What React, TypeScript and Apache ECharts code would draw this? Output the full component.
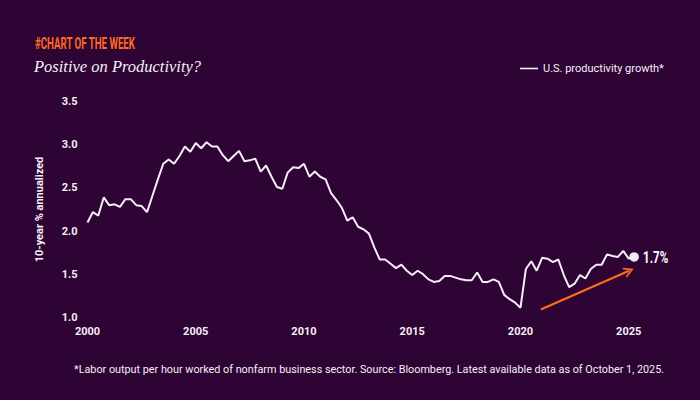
import React, { useEffect, useRef } from "react";
import * as echarts from "echarts";

const START_YEAR = 2000;
const yearTicks = [2000, 2005, 2010, 2015, 2020, 2025];
const yTicks = ["1.0", "1.5", "2.0", "2.5", "3.0", "3.5"];

// Quarterly 10-year annualized productivity growth (%), 2000Q1 ...
const values2000s = [
  2.10, 2.22, 2.18, 2.39,
  2.30, 2.31, 2.28, 2.37,
  2.37, 2.30, 2.29, 2.22,
  2.41, 2.60, 2.78, 2.83,
  2.78, 2.87, 2.98, 2.92,
  3.02, 2.96, 3.03, 2.98,
  2.98, 2.88, 2.81, 2.87,
  2.93, 2.81, 2.82, 2.84,
  2.69, 2.76, 2.63, 2.51,
  2.49, 2.68, 2.74, 2.73,
];
const values2010s = [
  2.78, 2.63, 2.69, 2.63,
  2.60, 2.44, 2.36, 2.27,
  2.12, 2.16, 2.05, 2.02,
  1.97, 1.81, 1.67, 1.67,
  1.62, 1.57, 1.61, 1.54,
  1.49, 1.54, 1.50, 1.44,
  1.41, 1.42, 1.48, 1.48,
  1.46, 1.44, 1.43, 1.43,
  1.52, 1.41, 1.41, 1.44,
  1.41, 1.26, 1.21, 1.17,
];
const values2020s = [
  1.11, 1.56, 1.65, 1.54,
  1.69, 1.68, 1.64, 1.67,
  1.49, 1.35, 1.39, 1.49,
  1.45, 1.56, 1.61, 1.61,
  1.73, 1.71, 1.70, 1.77,
  1.68, 1.70,
];
const latestLabel = "1.7%";
const arrowFrom = [2020.94, 1.09];
const arrowTo = [2025.02, 1.54];

const seriesName = "U.S. productivity growth*";
const titleText = "#CHART OF THE WEEK";
const subtitleText = "Positive on Productivity?";
const yAxisName = "10-year % annualized";
const footnote =
  "*Labor output per hour worked of nonfarm business sector. Source: Bloomberg. Latest available data as of October 1, 2025.";

const BG = "#2d0434";
const ORANGE = "#ff6a1f";
const WHITE = "#f6eff7";

export default function App() {
  const ref = useRef<HTMLDivElement>(null);
  useEffect(() => {
    if (!ref.current) return;
    const chart = echarts.init(ref.current, null, { renderer: "svg" });
    const all = [...values2000s, ...values2010s, ...values2020s];
    const data = all.map((v, i) => [START_YEAR + i / 4, v]);
    const last = data[data.length - 1];
    chart.setOption({
      animation: false,
      backgroundColor: BG,
      textStyle: { fontFamily: "Roboto" },
      grid: { left: 87.5, right: 28, top: 101.7, bottom: 82.7 },
      legend: {
        left: 515,
        top: 58,
        itemWidth: 18,
        itemHeight: 10,
        itemGap: 6,
        textStyle: { color: WHITE, fontSize: 11, fontFamily: "Roboto" },
        data: [{ name: seriesName, icon: "path://M0,4.2 L18,4.2 L18,5.8 L0,5.8 Z" }],
      },
      xAxis: {
        type: "value",
        min: 2000,
        max: 2027,
        interval: 5,
        axisLine: { show: false },
        axisTick: { show: false },
        splitLine: { show: false },
        axisLabel: {
          color: WHITE,
          fontWeight: "bold",
          fontSize: 11,
          margin: 9,
          formatter: (v: number) => (yearTicks.includes(v) ? String(v) : ""),
        },
      },
      yAxis: {
        type: "value",
        min: 1,
        max: 3.5,
        interval: 0.5,
        name: yAxisName,
        nameLocation: "middle",
        nameRotate: 90,
        nameGap: 43,
        nameTextStyle: { color: WHITE, fontWeight: "bold", fontSize: 11 },
        axisLine: { show: false },
        axisTick: { show: false },
        splitLine: { show: false },
        axisLabel: {
          color: WHITE,
          fontWeight: "bold",
          fontSize: 11,
          margin: 10,
          formatter: (v: number) => {
            const s = v.toFixed(1);
            return yTicks.includes(s) ? s : "";
          },
        },
      },
      series: [
        {
          name: seriesName,
          type: "line",
          data,
          showSymbol: false,
          symbol: "none",
          lineStyle: { color: WHITE, width: 2 },
          itemStyle: { color: WHITE },
          markLine: {
            silent: true,
            symbol: ["none", "path://M0,10 L5,0 L10,10 L8.2,10 L5,3.6 L1.8,10 Z"],
            symbolSize: [11, 10],
            lineStyle: { color: ORANGE, width: 2.2, type: "solid" },
            label: { show: false },
            data: [[{ coord: arrowFrom }, { coord: arrowTo }]],
          },
        },
        {
          name: "latest",
          type: "custom",
          data: [last],
          renderItem: (params: any, api: any) => {
            const p = api.coord([api.value(0), api.value(1)]);
            return {
              type: "group",
              children: [
                {
                  type: "circle",
                  shape: { cx: p[0], cy: p[1], r: 4.8 },
                  style: { fill: "#f3e4f5" },
                },
                {
                  type: "text",
                  x: p[0] + 9,
                  y: p[1],
                  scaleX: 0.72,
                  style: {
                    text: latestLabel,
                    fill: "#ffffff",
                    font: "bold 16px Roboto",
                    verticalAlign: "middle",
                    align: "left",
                  },
                },
              ],
            };
          },
        },
      ],
      graphic: [
        {
          type: "text",
          left: 35,
          top: 34,
          scaleX: 0.57,
          style: {
            text: titleText,
            fill: ORANGE,
            font: "bold 17px Roboto",
          },
        },
        {
          type: "text",
          left: 34,
          top: 58,
          style: {
            text: subtitleText,
            fill: WHITE,
            font: "italic 16.5px 'Liberation Serif'",
          },
        },
        {
          type: "text",
          left: 74,
          top: 364,
          style: {
            text: footnote,
            fill: WHITE,
            font: "10.8px Roboto",
          },
        },
      ],
    });
    return () => chart.dispose();
  }, []);
  return (
    <div
      ref={ref}
      style={{ position: "fixed", left: 0, top: 0, width: 700, height: 400 }}
    />
  );
}
